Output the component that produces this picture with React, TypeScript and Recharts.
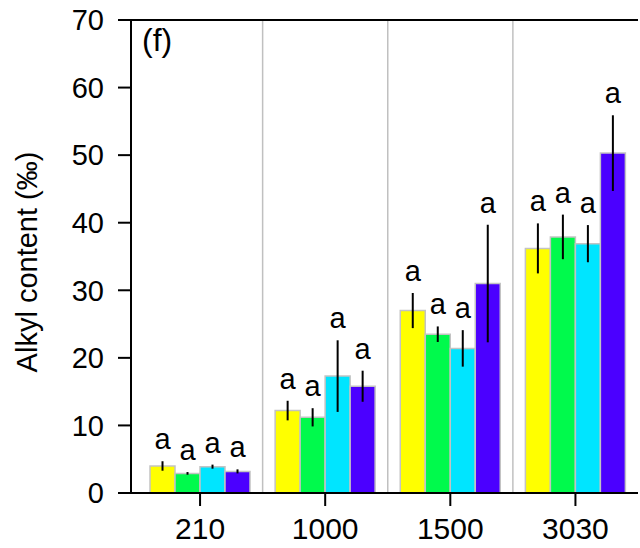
import { BarChart, Bar, XAxis, YAxis, ErrorBar, LabelList, ReferenceLine, Label } from "recharts"

const categories = ["210", "1000", "1500", "3030"]
const yellowVals = [4.0, 12.2, 27.0, 36.2]
const yellowErr = [0.7, 1.45, 2.6, 3.7]
const greenVals = [2.9, 11.2, 23.5, 37.9]
const greenErr = [0.2, 1.35, 1.15, 3.3]
const cyanVals = [3.9, 17.3, 21.4, 36.9]
const cyanErr = [0.3, 5.3, 2.7, 2.75]
const purpleVals = [3.2, 15.8, 31.0, 50.3]
const purpleErr = [0.3, 2.3, 8.7, 5.6]
const letters = ["a", "a", "a", "a"]
const yTicks = [0, 10, 20, 30, 40, 50, 60, 70]
// grey dividers sit at the left edge of these groups
const separators = ["1000", "1500", "3030"]

const font = "'Liberation Sans', Arial, sans-serif"

const data = categories.map((cat, i) => ({
  cat,
  t1: yellowVals[i],
  t1Err: yellowErr[i],
  t2: greenVals[i],
  t2Err: greenErr[i],
  t3: cyanVals[i],
  t3Err: cyanErr[i],
  t4: purpleVals[i],
  t4Err: purpleErr[i],
}))

const series = [
  { key: "t1", fill: "#ffff00", errs: yellowErr },
  { key: "t2", fill: "#00fa4c", errs: greenErr },
  { key: "t3", fill: "#00e5ff", errs: cyanErr },
  { key: "t4", fill: "#4b00ff", errs: purpleErr },
]

// letter sits 12px above the top of the error bar
const letterLabel = (errs: number[]) => (props: any) => {
  const { x, y, width, height, value, index } = props
  const perUnit = value ? height / value : 0
  const top = y - (errs[index] ?? 0) * perUnit
  return (
    <text x={x + width / 2} y={top - 12} textAnchor="middle" fontSize={29} fontFamily={font} fill="#000">
      {letters[index]}
    </text>
  )
}

const YTitle = (props: any) => {
  const vb = props.viewBox
  const cx = vb.x + 37
  const cy = vb.y + vb.height / 2 + 5.5
  return (
    <text x={cx} y={cy} transform={`rotate(-90 ${cx} ${cy})`} textAnchor="middle" fontSize={29} fontFamily={font} fill="#000">
      Alkyl content (‰)
    </text>
  )
}

const PanelTag = (props: any) => {
  const vb = props.viewBox
  return (
    <text x={vb.x + 11} y={vb.y + vb.height + 31} fontSize={32} fontFamily={font} fill="#000">
      (f)
    </text>
  )
}

export default function App() {
  return (
    <div style={{ position: "absolute", left: 0, top: 0, background: "#fff" }}>
      <BarChart
        width={640}
        height={548}
        data={data}
        margin={{ top: 19, right: 2, bottom: 0, left: 0 }}
        barCategoryGap="10%"
        barGap={0}
      >
        <XAxis
          dataKey="cat"
          height={55}
          padding={{ left: 6.5, right: 0 }}
          tickSize={13}
          tickMargin={12}
          axisLine={{ stroke: "#000", strokeWidth: 2 }}
          tickLine={{ stroke: "#000", strokeWidth: 2 }}
          tick={{ fill: "#000", fontSize: 30, fontFamily: font }}
        />
        <XAxis
          xAxisId="top"
          dataKey="cat"
          orientation="top"
          height={1}
          padding={{ left: 6.5, right: 0 }}
          tick={false}
          tickLine={false}
          axisLine={{ stroke: "#000", strokeWidth: 2 }}
        >
          <Label content={<PanelTag />} />
        </XAxis>
        <YAxis
          width={131}
          domain={[0, 70]}
          ticks={yTicks}
          interval={0}
          tickSize={13}
          tickMargin={14}
          axisLine={{ stroke: "#000", strokeWidth: 2 }}
          tickLine={{ stroke: "#000", strokeWidth: 2 }}
          tick={{ fill: "#000", fontSize: 29, fontFamily: font }}
        >
          <Label content={<YTitle />} />
        </YAxis>
        {separators.map((s) => (
          <ReferenceLine key={s} x={s} position="start" stroke="#c0c0c0" strokeWidth={1.5} />
        ))}
        {series.map((s) => (
          <Bar key={s.key} dataKey={s.key} fill={s.fill} stroke="#c3c3c3" strokeWidth={1.5} isAnimationActive={false}>
            <ErrorBar dataKey={`${s.key}Err`} width={0} stroke="#000" strokeWidth={2} />
            <LabelList dataKey={s.key} content={letterLabel(s.errs)} />
          </Bar>
        ))}
      </BarChart>
    </div>
  )
}
